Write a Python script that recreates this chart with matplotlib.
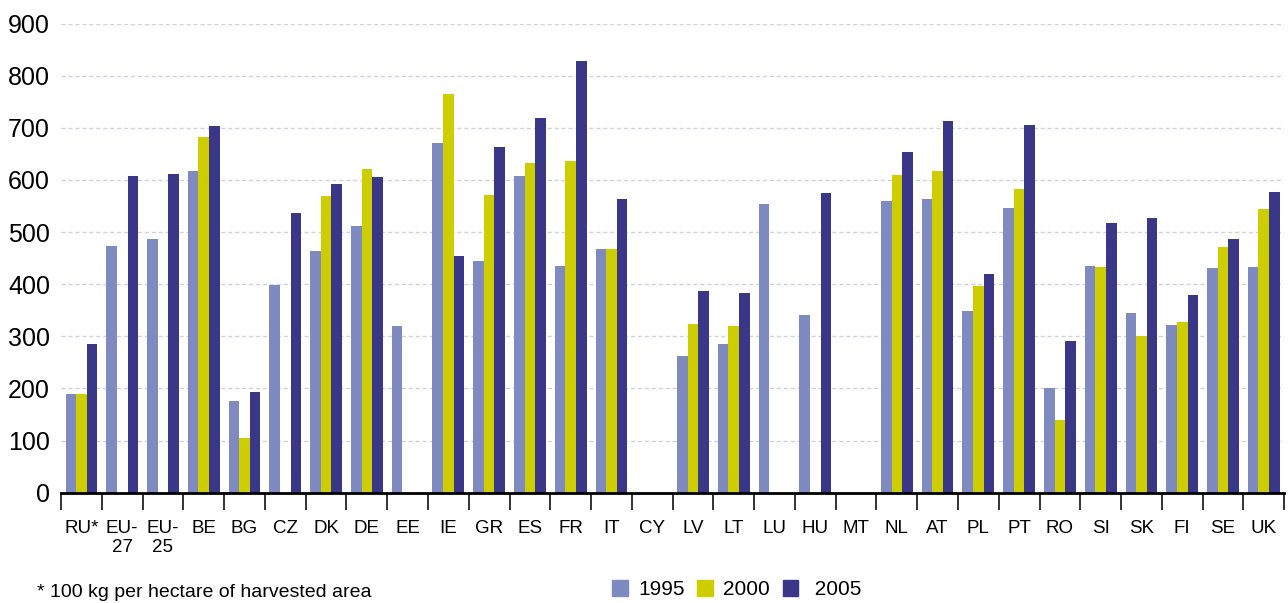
import numpy as np
import matplotlib.pyplot as plt
from matplotlib.patches import Patch

# yields, 100 kg per hectare (RU*)
countries = ["RU*", "EU-\n27", "EU-\n25", "BE", "BG", "CZ", "DK", "DE", "EE", "IE",
             "GR", "ES", "FR", "IT", "CY", "LV", "LT", "LU", "HU", "MT",
             "NL", "AT", "PL", "PT", "RO", "SI", "SK", "FI", "SE", "UK"]
y1995 = [190, 473, 486, 618, 176, 398, 463, 511, 320, 670,
         444, 607, 434, 467, 0, 262, 285, 553, 341, 0,
         559, 563, 348, 546, 201, 434, 345, 321, 431, 433]
y2000 = [190, 0, 0, 682, 105, 0, 569, 620, 0, 764,
         571, 632, 637, 467, 0, 323, 320, 0, 0, 0,
         609, 618, 396, 582, 140, 433, 300, 327, 471, 544]
y2005 = [285, 607, 611, 703, 193, 536, 592, 605, 0, 454,
         663, 719, 828, 563, 0, 386, 383, 0, 574, 0,
         653, 713, 419, 705, 291, 517, 527, 379, 486, 576]

plt.rcParams['font.family'] = ['Liberation Sans', 'DejaVu Sans']

c1995 = "#7F8BC0"
c2000 = "#CDCD00"
c2005 = "#3A3789"

fig = plt.figure(figsize=(12.88, 6.03), dpi=100)
ax = fig.add_axes([0.0474, 0.183, 0.9496, 0.778])

x = np.arange(len(countries))
w = 0.26
ax.bar(x - w, y1995, w, color=c1995, zorder=3)
ax.bar(x, y2000, w, color=c2000, zorder=3)
ax.bar(x + w, y2005, w, color=c2005, zorder=3)

ax.set_xlim(-0.5, len(countries) - 0.5)
ax.set_ylim(0, 900)
ax.set_yticks(range(0, 1000, 100))
ax.tick_params(axis='y', length=0, pad=8, labelsize=18)
for v in range(100, 1000, 100):
    ax.axhline(v, color="#D2D2DE", linestyle=(0, (3, 2)), linewidth=1, zorder=1)

ax.set_xticks(x)
ax.set_xticklabels(countries, fontsize=13.5, linespacing=1.15)
ax.tick_params(axis='x', which='major', length=0, pad=20)
ax.set_xticks(np.arange(-0.5, len(countries)), minor=True)
ax.tick_params(axis='x', which='minor', length=12, width=1.3, color="#222222")

for s in ["left", "right", "top"]:
    ax.spines[s].set_visible(False)
ax.spines["bottom"].set_linewidth(2)
ax.spines["bottom"].set_zorder(4)

handles = [Patch(color=c1995), Patch(color=c2000), Patch(color=c2005)]
fig.legend(handles, ["1995", "2000", " 2005"], loc="center", bbox_to_anchor=(0.572, 0.022),
           ncol=3, frameon=False, fontsize=15, handlelength=0.75, handleheight=0.75,
           handletextpad=0.5, columnspacing=0.6)

fig.text(0.029, 0.003, "* 100 kg per hectare of harvested area", fontsize=14, va="bottom")

fig.savefig("out.png", dpi=100)
